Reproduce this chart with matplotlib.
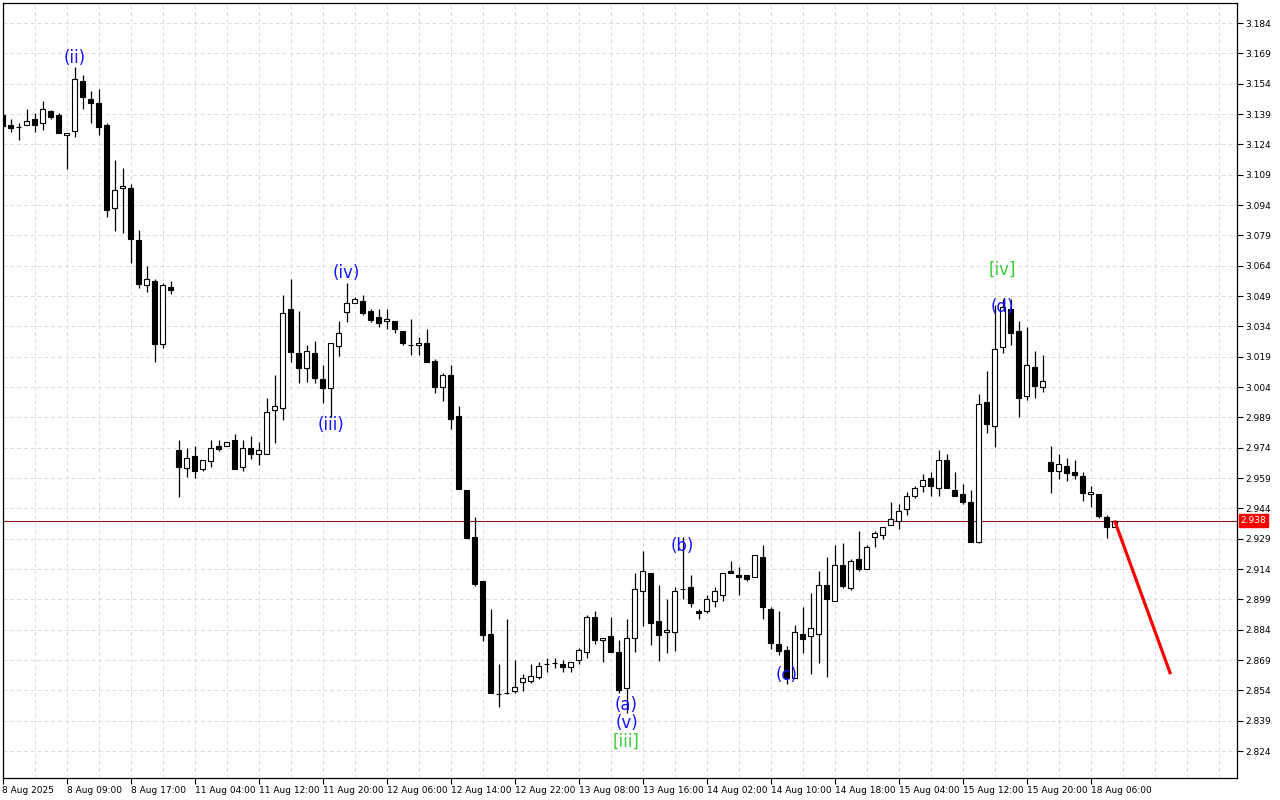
import numpy as np
import matplotlib
matplotlib.use("Agg")
import matplotlib.pyplot as plt
import matplotlib.transforms as mtransforms

# hourly candles, index 0..139
opens = [3.1385, 3.1336, 3.1325, 3.1334, 3.1364, 3.1344, 3.1403, 3.1384, 3.1285, 3.1304,
         3.1552, 3.1463, 3.1443, 3.1334, 3.0924, 3.1023, 3.1023, 3.0767, 3.0543, 3.0564,
         3.0254, 3.0535, 2.9729, 2.9638, 2.9699, 2.9636, 2.9676, 2.9747, 2.9747, 2.9776,
         2.9646, 2.9737, 2.9707, 2.9707, 2.9925, 2.9935, 3.0424, 3.0207, 3.0136, 3.0207,
         3.0080, 3.0037, 3.0244, 3.0412, 3.0454, 3.0464, 3.0414, 3.0385, 3.0365, 3.0365,
         3.0316, 3.0247, 3.0246, 3.0256, 3.0170, 3.0039, 3.0098, 2.9897, 2.9531, 2.9298,
         2.9081, 2.8819, 2.8522, 2.8525, 2.8538, 2.8580, 2.8588, 2.8607, 2.8669, 2.8676,
         2.8670, 2.8657, 2.8690, 2.8730, 2.8901, 2.8789, 2.8809, 2.8730, 2.8550, 2.8797,
         2.9030, 2.9119, 2.8884, 2.8827, 2.8827, 2.9040, 2.9050, 2.8932, 2.8931, 2.8980,
         2.9010, 2.9129, 2.9109, 2.9109, 2.9099, 2.9198, 2.8942, 2.8768, 2.8740, 2.8600,
         2.8819, 2.8807, 2.8817, 2.9059, 2.8980, 2.9158, 2.9048, 2.9188, 2.9139, 2.9297,
         2.9307, 2.9356, 2.9376, 2.9435, 2.9500, 2.9549, 2.9589, 2.9539, 2.9678, 2.9529,
         2.9509, 2.9470, 2.9275, 2.9964, 2.9846, 3.0236, 3.0427, 3.0317, 2.9994, 3.0137,
         3.0039, 2.9668, 2.9626, 2.9648, 2.9618, 2.9598, 2.9509, 2.9509, 2.9396, 2.9346]
highs = [3.1395, 3.1364, 3.1347, 3.1413, 3.1393, 3.1453, 3.1410, 3.1393, 3.1295, 3.1624,
         3.1583, 3.1502, 3.1512, 3.1344, 3.1163, 3.1123, 3.1044, 3.0816, 3.0638, 3.0574,
         3.0554, 3.0564, 2.9778, 2.9737, 2.9748, 2.9678, 2.9778, 2.9778, 2.9767, 2.9808,
         2.9776, 2.9798, 2.9767, 2.9986, 3.0098, 3.0495, 3.0573, 3.0414, 3.0246, 3.0269,
         3.0149, 3.0256, 3.0366, 3.0553, 3.0484, 3.0493, 3.0424, 3.0424, 3.0424, 3.0365,
         3.0316, 3.0375, 3.0289, 3.0325, 3.0180, 3.0108, 3.0147, 2.9946, 2.9531, 2.9397,
         2.9081, 2.8942, 2.8670, 2.8893, 2.8690, 2.8621, 2.8670, 2.8680, 2.8698, 2.8698,
         2.8690, 2.8680, 2.8748, 2.8911, 2.8932, 2.8799, 2.8904, 2.8789, 2.8893, 2.9122,
         2.9229, 2.9119, 2.9061, 2.8992, 2.9050, 2.9300, 2.9109, 2.8942, 2.9010, 2.9050,
         2.9119, 2.9180, 2.9148, 2.9109, 2.9208, 2.9259, 2.8954, 2.8932, 2.8759, 2.8862,
         2.8951, 2.9021, 2.9130, 2.9198, 2.9259, 2.9269, 2.9188, 2.9326, 2.9257, 2.9326,
         2.9346, 2.9470, 2.9460, 2.9519, 2.9549, 2.9608, 2.9618, 2.9727, 2.9707, 2.9618,
         2.9559, 2.9529, 3.0004, 3.0119, 3.0446, 3.0474, 3.0474, 3.0366, 3.0335, 3.0218,
         3.0197, 2.9748, 2.9709, 2.9687, 2.9678, 2.9618, 2.9549, 2.9509, 2.9407, 2.9380]
lows = [3.1321, 3.1302, 3.1261, 3.1334, 3.1302, 3.1312, 3.1364, 3.1295, 3.1120, 3.1275,
        3.1413, 3.1344, 3.1285, 3.0882, 3.0813, 3.0803, 3.0655, 3.0531, 3.0511, 3.0165,
        3.0234, 3.0501, 2.9498, 2.9597, 2.9589, 2.9626, 2.9646, 2.9725, 2.9747, 2.9636,
        2.9626, 2.9686, 2.9656, 2.9707, 2.9765, 2.9877, 3.0165, 3.0058, 3.0066, 3.0058,
        2.9962, 2.9892, 3.0193, 3.0363, 3.0454, 3.0395, 3.0363, 3.0335, 3.0325, 3.0306,
        3.0246, 3.0197, 3.0197, 3.0165, 3.0012, 2.9972, 2.9834, 2.9537, 2.9295, 2.9057,
        2.8786, 2.8528, 2.8459, 2.8522, 2.8528, 2.8538, 2.8578, 2.8598, 2.8629, 2.8649,
        2.8629, 2.8629, 2.8670, 2.8700, 2.8769, 2.8680, 2.8728, 2.8525, 2.8426, 2.8728,
        2.8860, 2.8764, 2.8687, 2.8726, 2.8736, 2.8990, 2.8951, 2.8891, 2.8921, 2.8951,
        2.8980, 2.9119, 2.9010, 2.9079, 2.9099, 2.8891, 2.8746, 2.8716, 2.8570, 2.8600,
        2.8726, 2.8619, 2.8677, 2.8607, 2.8980, 2.9048, 2.9038, 2.9129, 2.9139, 2.9247,
        2.9287, 2.9356, 2.9336, 2.9406, 2.9490, 2.9519, 2.9500, 2.9500, 2.9539, 2.9500,
        2.9460, 2.9275, 2.9267, 2.9814, 2.9745, 3.0207, 3.0246, 2.9893, 2.9974, 2.9984,
        3.0014, 2.9517, 2.9587, 2.9577, 2.9587, 2.9478, 2.9448, 2.9392, 2.9295, 2.9346]
closes = [3.1331, 3.1322, 3.1324, 3.1354, 3.1334, 3.1413, 3.1374, 3.1295, 3.1295, 3.1562,
          3.1473, 3.1443, 3.1324, 3.0914, 3.1013, 3.1034, 3.0773, 3.0551, 3.0574, 3.0254,
          3.0544, 3.0521, 2.9646, 2.9687, 2.9626, 2.9678, 2.9737, 2.9733, 2.9767, 2.9636,
          2.9737, 2.9707, 2.9727, 2.9915, 2.9945, 3.0404, 3.0215, 3.0136, 3.0218, 3.0086,
          3.0037, 3.0256, 3.0306, 3.0454, 3.0474, 3.0404, 3.0373, 3.0355, 3.0375, 3.0325,
          3.0256, 3.0246, 3.0256, 3.0165, 3.0039, 3.0098, 2.9883, 2.9537, 2.9295, 2.9067,
          2.8814, 2.8528, 2.8523, 2.8528, 2.8558, 2.8600, 2.8609, 2.8660, 2.8670, 2.8677,
          2.8657, 2.8680, 2.8740, 2.8901, 2.8789, 2.8799, 2.8728, 2.8542, 2.8799, 2.9040,
          2.9129, 2.8872, 2.8815, 2.8838, 2.9030, 2.9041, 2.8970, 2.8921, 2.8990, 2.9030,
          2.9119, 2.9119, 2.9099, 2.9089, 2.9208, 2.8951, 2.8776, 2.8736, 2.8600, 2.8827,
          2.8795, 2.8847, 2.9059, 2.8990, 2.9158, 2.9057, 2.9178, 2.9139, 2.9247, 2.9317,
          2.9346, 2.9386, 2.9425, 2.9500, 2.9539, 2.9579, 2.9549, 2.9678, 2.9539, 2.9500,
          2.9470, 2.9275, 2.9955, 2.9856, 3.0226, 3.0437, 3.0306, 2.9984, 3.0147, 3.0045,
          3.0068, 2.9626, 2.9658, 2.9616, 2.9606, 2.9517, 2.9519, 2.9402, 2.9346, 2.9380]

current_price = 2.938

# forecast arrow (candle index, price)
forecast_idx = [139, 146]
forecast_price = [2.938, 2.862]

# wave labels
wave_text = ["(ii)", "(iv)", "(iii)", "(a)", "(v)", "[iii]", "(b)", "(c)", "[iv]", "(d)"]
wave_idx = [9, 43, 41, 78, 78, 78, 85, 98, 125, 125]
wave_price = [3.1667, 3.0604, 2.9852, 2.8468, 2.8378, 2.8284, 2.9254, 2.8616, 3.0619, 3.0436]
wave_color = ["#1414ff", "#1414ff", "#1414ff", "#1414ff", "#1414ff", "#3ccb3c",
              "#1414ff", "#1414ff", "#3ccb3c", "#1414ff"]

y_ticks = [2.824, 2.839, 2.854, 2.869, 2.884, 2.899, 2.914, 2.929, 2.944, 2.959,
           2.974, 2.989, 3.004, 3.019, 3.034, 3.049, 3.064, 3.079, 3.094, 3.109,
           3.124, 3.139, 3.154, 3.169, 3.184]
x_tick_idx = [0, 8, 16, 24, 32, 40, 48, 56, 64, 72, 80, 88, 96, 104, 112, 120, 128, 136]
x_tick_labels = ["8 Aug 2025", "8 Aug 09:00", "8 Aug 17:00", "11 Aug 04:00", "11 Aug 12:00",
                 "11 Aug 20:00", "12 Aug 06:00", "12 Aug 14:00", "12 Aug 22:00",
                 "13 Aug 08:00", "13 Aug 16:00", "14 Aug 02:00", "14 Aug 10:00",
                 "14 Aug 18:00", "15 Aug 04:00", "15 Aug 12:00", "15 Aug 20:00",
                 "18 Aug 06:00"]

plt.rcParams['font.family'] = ['DejaVu Sans']

fig = plt.figure(figsize=(12.8, 8), dpi=100)
ax = fig.add_axes([2.5 / 1280, 22 / 800, 1234.5 / 1280, 775 / 800])

o = np.array(opens)
h = np.array(highs)
l = np.array(lows)
c = np.array(closes)
x = np.arange(len(o))

# wicks then bodies
ax.vlines(x, l, h, color="black", linewidth=0.9, zorder=3)
up = c >= o
body_col = np.where(up, "white", "black")
ax.bar(x, c - o, bottom=o, width=0.55, color=body_col, edgecolor="black",
       linewidth=0.8, zorder=4)

# current price line + label
ax.axhline(current_price, color="#8c1c1c", linewidth=0.8, zorder=2)
trans = mtransforms.blended_transform_factory(ax.transAxes, ax.transData)
ax.text(1.003, current_price, f"{current_price:.3f}", transform=trans, ha="left",
        va="center", fontsize=6.5, color="white", zorder=10, clip_on=False,
        bbox=dict(facecolor="#ff0000", edgecolor="#ff0000", pad=1.2))

# forecast
ax.plot(forecast_idx, forecast_price, color="#ff0000", linewidth=2.3, zorder=6,
        solid_capstyle="butt")

# wave labels
for t, i, p, col in zip(wave_text, wave_idx, wave_price, wave_color):
    ax.text(i, p, t, color=col, fontsize=12, ha="center", va="center", zorder=8)

ax.set_xlim(0, 154.3)
ax.set_ylim(2.8107, 3.1939)

ax.yaxis.tick_right()
ax.set_yticks(y_ticks)
ax.set_yticklabels([f"{v:.3f}" for v in y_ticks])
ax.set_xticks(x_tick_idx)
ax.set_xticklabels(x_tick_labels, ha="left")
ax.set_xticks(range(0, 155, 4), minor=True)
ax.tick_params(axis="both", which="major", direction="out", length=4, width=0.8,
               labelsize=6.5, pad=2, colors="black")
ax.tick_params(axis="x", which="minor", length=0)

ax.grid(True, which="both", axis="x", color="#dcdcdc", linestyle=(0, (4, 3)), linewidth=0.7)
ax.grid(True, which="major", axis="y", color="#dcdcdc", linestyle=(0, (4, 3)), linewidth=0.7)
ax.set_axisbelow(True)

for s in ax.spines.values():
    s.set_color("black")
    s.set_linewidth(0.9)

fig.savefig("out.png", dpi=100, facecolor="white")
